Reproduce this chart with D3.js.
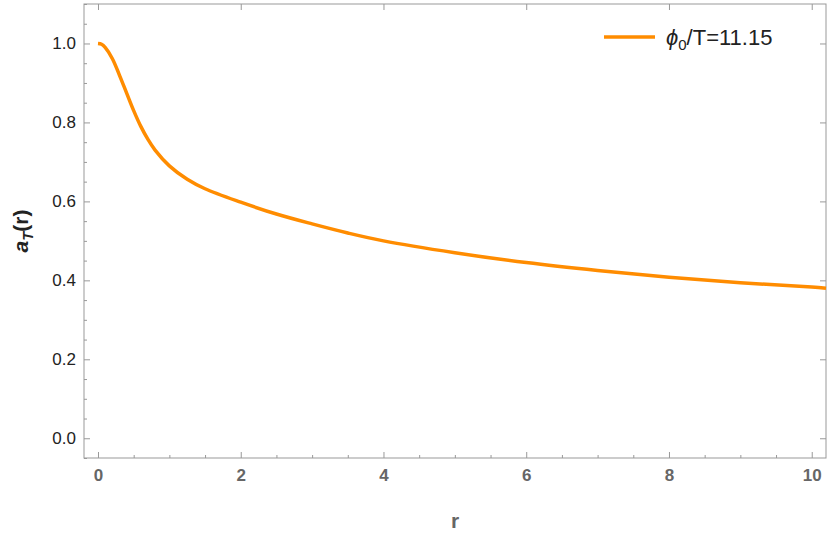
<!DOCTYPE html>
<html><head><meta charset="utf-8">
<script src="https://cdn.jsdelivr.net/npm/d3@7"></script>
<style>body{margin:0;background:#fff}text{font-family:"Liberation Sans",Arial,sans-serif}</style>
</head><body><svg id="c" width="830" height="538"></svg>
<script>
const rVals=[0,0.05,0.1,0.2,0.3,0.4,0.5,0.6,0.7,0.8,1.0,1.25,1.5,2,2.5,3,3.5,4,5,6,7,8,9,10,10.2];
const aVals=[1,0.998,0.99,0.962,0.92,0.875,0.83,0.79,0.757,0.73,0.69,0.656,0.632,0.598,0.568,0.543,0.52,0.50,0.47,0.445,0.425,0.408,0.394,0.383,0.38];
const xTicks=[0,2,4,6,8,10];
const yTicks=[0,0.2,0.4,0.6,0.8,1.0];
const legendLabel="T=11.15";
const svg=d3.select("#c");
const L=84,R=826,T=4,B=458;
const x=d3.scaleLinear().domain([-0.196,10.2]).range([L,R]);
const y=d3.scaleLinear().domain([-0.05,1.1]).range([B,T]);
const g=svg.append("g");
g.append("rect").attr("x",L).attr("y",T).attr("width",R-L).attr("height",B-T).attr("fill","none").attr("stroke","#999");
const ax=g.append("g").attr("transform",`translate(0,${B})`).call(d3.axisBottom(x).tickValues(xTicks).tickSize(-6).tickFormat(d3.format("d")));
const axm=g.append("g").attr("transform",`translate(0,${B})`).call(d3.axisBottom(x).tickValues(d3.range(0,10.3,0.5).filter(v=>v%2!==0)).tickSize(-3).tickFormat(""));
const ay=g.append("g").attr("transform",`translate(${L},0)`).call(d3.axisLeft(y).tickValues(yTicks).tickSize(-6).tickFormat(d3.format(".1f")));
const aym=g.append("g").attr("transform",`translate(${L},0)`).call(d3.axisLeft(y).tickValues(d3.range(-0.05,1.101,0.05).filter(v=>Math.abs(v*10-Math.round(v*10))>0.01||Math.round(v*10)%2!==0)).tickSize(-3).tickFormat(""));
[ax,axm,ay,aym].forEach(a=>{a.select(".domain").remove();a.selectAll("line").attr("stroke","#999");});
g.append("g").attr("transform",`translate(0,${T})`).call(d3.axisTop(x).tickValues(xTicks).tickSize(-6).tickFormat("")).call(a=>{a.select(".domain").remove();a.selectAll("line").attr("stroke","#999");});
g.append("g").attr("transform",`translate(${R},0)`).call(d3.axisRight(y).tickValues(yTicks).tickSize(-6).tickFormat("")).call(a=>{a.select(".domain").remove();a.selectAll("line").attr("stroke","#999");});
ax.selectAll("text").attr("dy","1.2em").attr("font-size",17).attr("fill","#666").attr("font-weight","bold");
ay.selectAll("text").attr("dx","-0.3em").attr("font-size",17).attr("fill","#222");
const line=d3.line().x((d,i)=>x(rVals[i])).y(d=>y(d)).curve(d3.curveCatmullRom);
g.append("path").attr("d",line(aVals)).attr("fill","none").attr("stroke","#ff8c00").attr("stroke-width",3.5);
svg.append("text").attr("x",455).attr("y",528).attr("text-anchor","middle").attr("font-size",21).attr("font-weight","bold").attr("fill","#666").text("r");
const yl=svg.append("text").attr("transform","translate(28,231) rotate(-90)").attr("text-anchor","middle").attr("font-size",21).attr("font-weight","bold").attr("fill","#222");
yl.append("tspan").attr("font-style","italic").text("a");
yl.append("tspan").attr("font-style","italic").attr("font-size",15).attr("dy",5).text("T");
yl.append("tspan").attr("dy",-5).text("(r)");
svg.append("line").attr("x1",604).attr("x2",655).attr("y1",37).attr("y2",37).attr("stroke","#ff8c00").attr("stroke-width",3.5);
const lt=svg.append("text").attr("x",666).attr("y",45).attr("font-size",22).attr("fill","#222");
lt.append("tspan").attr("font-style","italic").text("ϕ");
lt.append("tspan").attr("font-size",15).attr("dy",5).text("0");
lt.append("tspan").attr("dy",-5).text("/"+legendLabel);
</script></body></html>
